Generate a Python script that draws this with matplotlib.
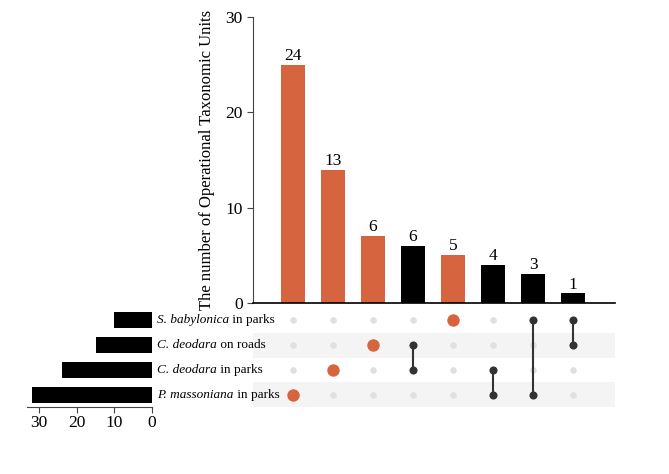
import matplotlib.pyplot as plt
import numpy as np

# set names, top to bottom in the matrix
sets = ['S. babylonica', 'C. deodara', 'C. deodara', 'P. massoniana']
set_suffix = ['in parks', 'on roads', 'in parks', 'in parks']
set_sizes = [10, 15, 24, 32]

# intersections (row indexes, 0 = top row)
members = [[3], [2], [1], [1, 2], [0], [2, 3], [0, 3], [0, 1]]
bar_heights = [25, 14, 7, 6, 5, 4, 3, 1]
bar_labels = ['24', '13', '6', '6', '5', '4', '3', '1']
bar_is_single = [True, True, True, False, True, False, False, False]

orange = '#d5643f'
plt.rcParams['font.family'] = ['Liberation Serif', 'DejaVu Serif']

fig = plt.figure(figsize=(6.69, 4.74), dpi=100)

# intersection bars
ax_bar = fig.add_axes([253 / 669, 1 - 303 / 474, 362 / 669, 286 / 474])
x = np.arange(len(bar_heights))
cols = [orange if s else 'black' for s in bar_is_single]
ax_bar.bar(x, bar_heights, width=0.6, color=cols)
for xi, h, lab in zip(x, bar_heights, bar_labels):
    ax_bar.text(xi, h + 0.1, lab, ha='center', va='bottom', fontsize=12.5, clip_on=False)
ax_bar.set_xlim(-1, 8.05)
ax_bar.set_ylim(0, 30)
ax_bar.set_yticks([0, 10, 20, 30])
ax_bar.tick_params(axis='y', labelsize=12.5, length=4, color='#444444')
ax_bar.set_xticks([])
for s in ['top', 'right']:
    ax_bar.spines[s].set_visible(False)
ax_bar.spines['left'].set_color('#444444')
ax_bar.spines['bottom'].set_linewidth(1.2)
ax_bar.set_ylabel('The number of Operational Taxonomic Units', fontsize=12, labelpad=7)

# matrix
ax_m = fig.add_axes([253 / 669, 1 - 407 / 474, 362 / 669, 99 / 474])
ax_m.set_xlim(-1, 8.05)
ax_m.set_ylim(3.5, -0.5)
for r in range(len(sets)):
    if r % 2 == 1:
        ax_m.axhspan(r - 0.5, r + 0.5, color='#f4f4f4', zorder=0, lw=0)
for xi, mem, single in zip(x, members, bar_is_single):
    others = [r for r in range(len(sets)) if r not in mem]
    ax_m.scatter([xi] * len(others), others, s=22, color='#e0e0e0', zorder=2, lw=0)
    if single:
        ax_m.scatter([xi] * len(mem), mem, s=80, color=orange, zorder=3, lw=0)
    else:
        ax_m.plot([xi, xi], [min(mem), max(mem)], color='#333333', lw=1.5, zorder=2)
        ax_m.scatter([xi] * len(mem), mem, s=34, color='#333333', zorder=3, lw=0)
ax_m.axis('off')

# set size bars
ax_s = fig.add_axes([27 / 669, 1 - 407 / 474, 125 / 669, 99 / 474])
rows = np.arange(len(sets))
ax_s.barh(rows, set_sizes, height=0.65, color='black')
ax_s.set_xlim(33.2, 0)
ax_s.set_ylim(3.5, -0.5)
ax_s.set_xticks([30, 20, 10, 0])
ax_s.tick_params(axis='x', labelsize=12.5, length=4, color='#444444', pad=2)
ax_s.set_yticks([])
for s in ['top', 'right', 'left']:
    ax_s.spines[s].set_visible(False)
ax_s.spines['bottom'].set_color('#444444')
for r in rows:
    t = ax_s.text(-1.4, r, sets[r], style='italic', fontsize=9.5, va='center', ha='left',
                  clip_on=False, zorder=5)
    ax_s.annotate(' ' + set_suffix[r], xy=(1, 0), xycoords=t, va='bottom', ha='left',
                  fontsize=9.5, annotation_clip=False, zorder=5)

fig.savefig('out.png', dpi=100)
